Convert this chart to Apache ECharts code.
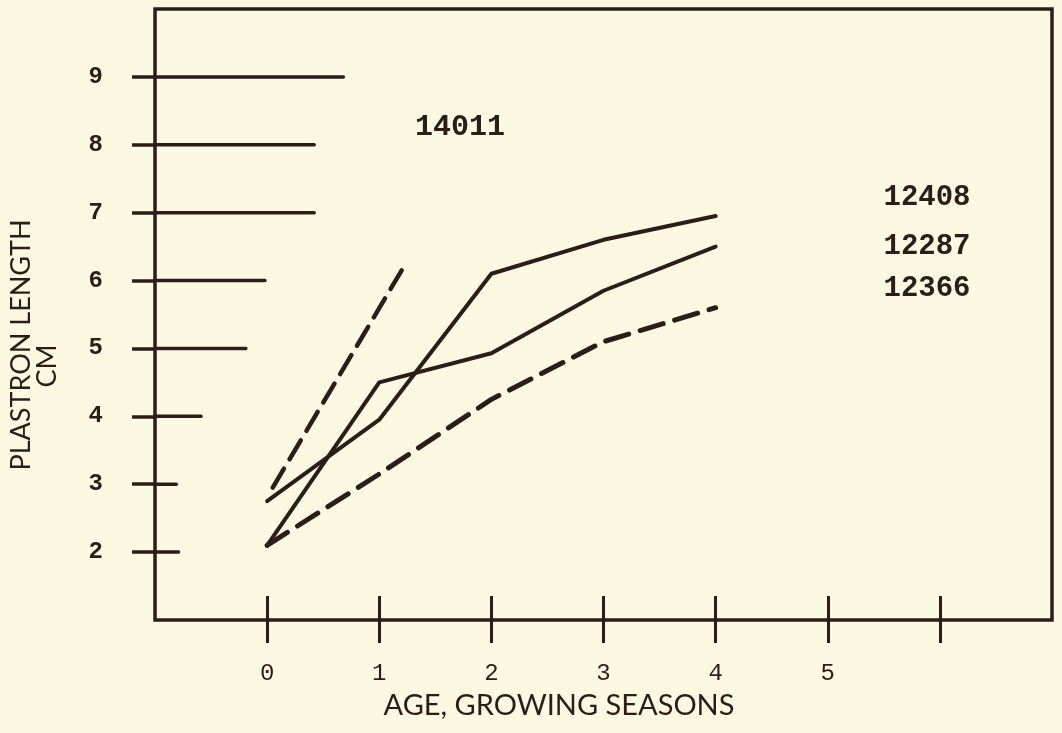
<!DOCTYPE html>
<html>
<head>
<meta charset="utf-8">
<script src="https://cdn.jsdelivr.net/npm/echarts@6/dist/echarts.min.js"></script>
<style>
html,body{margin:0;padding:0;background:#fcf8e1;}
#chart{width:1062px;height:733px;}
</style>
</head>
<body>
<div id="chart"></div>
<script>
// ---- data ----
var ages = [0, 1, 2, 3, 4];
var s12408 = [2.75, 3.95, 6.1, 6.6, 6.95];
var s12287 = [2.1, 4.5, 4.93, 5.85, 6.5];
var s12366 = [2.1, 3.15, 4.25, 5.1, 5.6];
var s14011x = [0.05, 1.2];
var s14011y = [2.95, 6.15];
var yTickValues = [2, 3, 4, 5, 6, 7, 8, 9];
var yTickEnds = [-0.79, -0.81, -0.59, -0.19, -0.02, 0.42, 0.42, 0.68];
var xTickValues = [0, 1, 2, 3, 4, 5, 6];
var xLabelValues = [0, 1, 2, 3, 4, 5];

var ink = '#2a1e1b';
function pairs(xs, ys){ return xs.map(function(x,i){ return [x, ys[i]]; }); }
var tickData = yTickValues.map(function(v,i){ return [v, yTickEnds[i]]; });

var chart = echarts.init(document.getElementById('chart'));
var monoFont = '"Liberation Mono", "DejaVu Sans Mono", monospace';
var sansFont = 'Lato, "Noto Sans", sans-serif';

chart.setOption({
  backgroundColor: '#fcf8e1',
  animation: false,
  grid: {left: 155, right: 10, top: 9, bottom: 113, show: true,
         borderColor: ink, borderWidth: 3.5, backgroundColor: 'transparent'},
  xAxis: [{
    type: 'value', min: -1, max: 7, interval: 1,
    axisLine: {show: false, onZero: false},
    splitLine: {show: false},
    axisTick: {show: true, inside: true, length: 24, customValues: xTickValues,
               lineStyle: {color: ink, width: 3}},
    axisLabel: {customValues: xLabelValues, margin: 42, color: ink,
                fontFamily: monoFont, fontSize: 24}
  }, {
    type: 'value', min: -1, max: 7, interval: 1, position: 'bottom',
    axisLine: {show: false, onZero: false},
    splitLine: {show: false},
    axisTick: {show: true, inside: false, length: 23, customValues: xTickValues,
               lineStyle: {color: ink, width: 3}},
    axisLabel: {show: false}
  }],
  yAxis: {
    type: 'value', min: 1, max: 10, interval: 1, position: 'left',
    axisLine: {show: false, onZero: false},
    splitLine: {show: false},
    axisTick: {show: true, inside: false, length: 23, customValues: yTickValues,
               lineStyle: {color: ink, width: 3.5}},
    axisLabel: {customValues: yTickValues, margin: 52, color: ink,
                fontFamily: monoFont, fontWeight: 'bold', fontSize: 24}
  },
  graphic: [
    {type: 'text', x: 21, y: 345, rotation: Math.PI/2,
     style: {text: 'PLASTRON LENGTH', fill: ink, font: '27px ' + sansFont,
             textAlign: 'center', textVerticalAlign: 'middle'}},
    {type: 'text', x: 47, y: 366, rotation: Math.PI/2,
     style: {text: 'CM', fill: ink, font: '27px ' + sansFont,
             textAlign: 'center', textVerticalAlign: 'middle'}},
    {type: 'text', x: 559, y: 706,
     style: {text: 'AGE, GROWING SEASONS', fill: ink, font: '29px ' + sansFont,
             textAlign: 'center', textVerticalAlign: 'middle'}},
    {type: 'text', x: 460, y: 127,
     style: {text: '14011', fill: ink, font: 'bold 30px ' + monoFont,
             textAlign: 'center', textVerticalAlign: 'middle'}},
    {type: 'text', x: 927, y: 198,
     style: {text: '12408', fill: ink, font: 'bold 29px ' + monoFont,
             textAlign: 'center', textVerticalAlign: 'middle'}},
    {type: 'text', x: 927, y: 247,
     style: {text: '12287', fill: ink, font: 'bold 29px ' + monoFont,
             textAlign: 'center', textVerticalAlign: 'middle'}},
    {type: 'text', x: 927, y: 289,
     style: {text: '12366', fill: ink, font: 'bold 29px ' + monoFont,
             textAlign: 'center', textVerticalAlign: 'middle'}}
  ],
  series: [
    {type: 'custom', name: 'yticks', clip: false, silent: true,
     data: tickData,
     renderItem: function(params, api){
       var v = api.value(0), e = api.value(1);
       var p0 = api.coord([-1, v]);
       var p1 = api.coord([e, v]);
       return {type: 'line', shape: {x1: p0[0], y1: p0[1], x2: p1[0], y2: p1[1]},
               style: {stroke: ink, lineWidth: 3.5, lineCap: 'round'}};
     }},
    {type: 'line', name: '12408', data: pairs(ages, s12408), symbol: 'none',
     lineStyle: {color: ink, width: 4, cap: 'round', join: 'round'}},
    {type: 'line', name: '12287', data: pairs(ages, s12287), symbol: 'none',
     lineStyle: {color: ink, width: 4, cap: 'round', join: 'round'}},
    {type: 'line', name: '12366', data: pairs(ages, s12366), symbol: 'none',
     lineStyle: {color: ink, width: 5, type: [24, 12], cap: 'round', join: 'round'}},
    {type: 'line', name: '14011', data: pairs(s14011x, s14011y), symbol: 'none',
     lineStyle: {color: ink, width: 4.5, type: [22, 11], cap: 'round'}}
  ]
});
</script>
</body>
</html>
